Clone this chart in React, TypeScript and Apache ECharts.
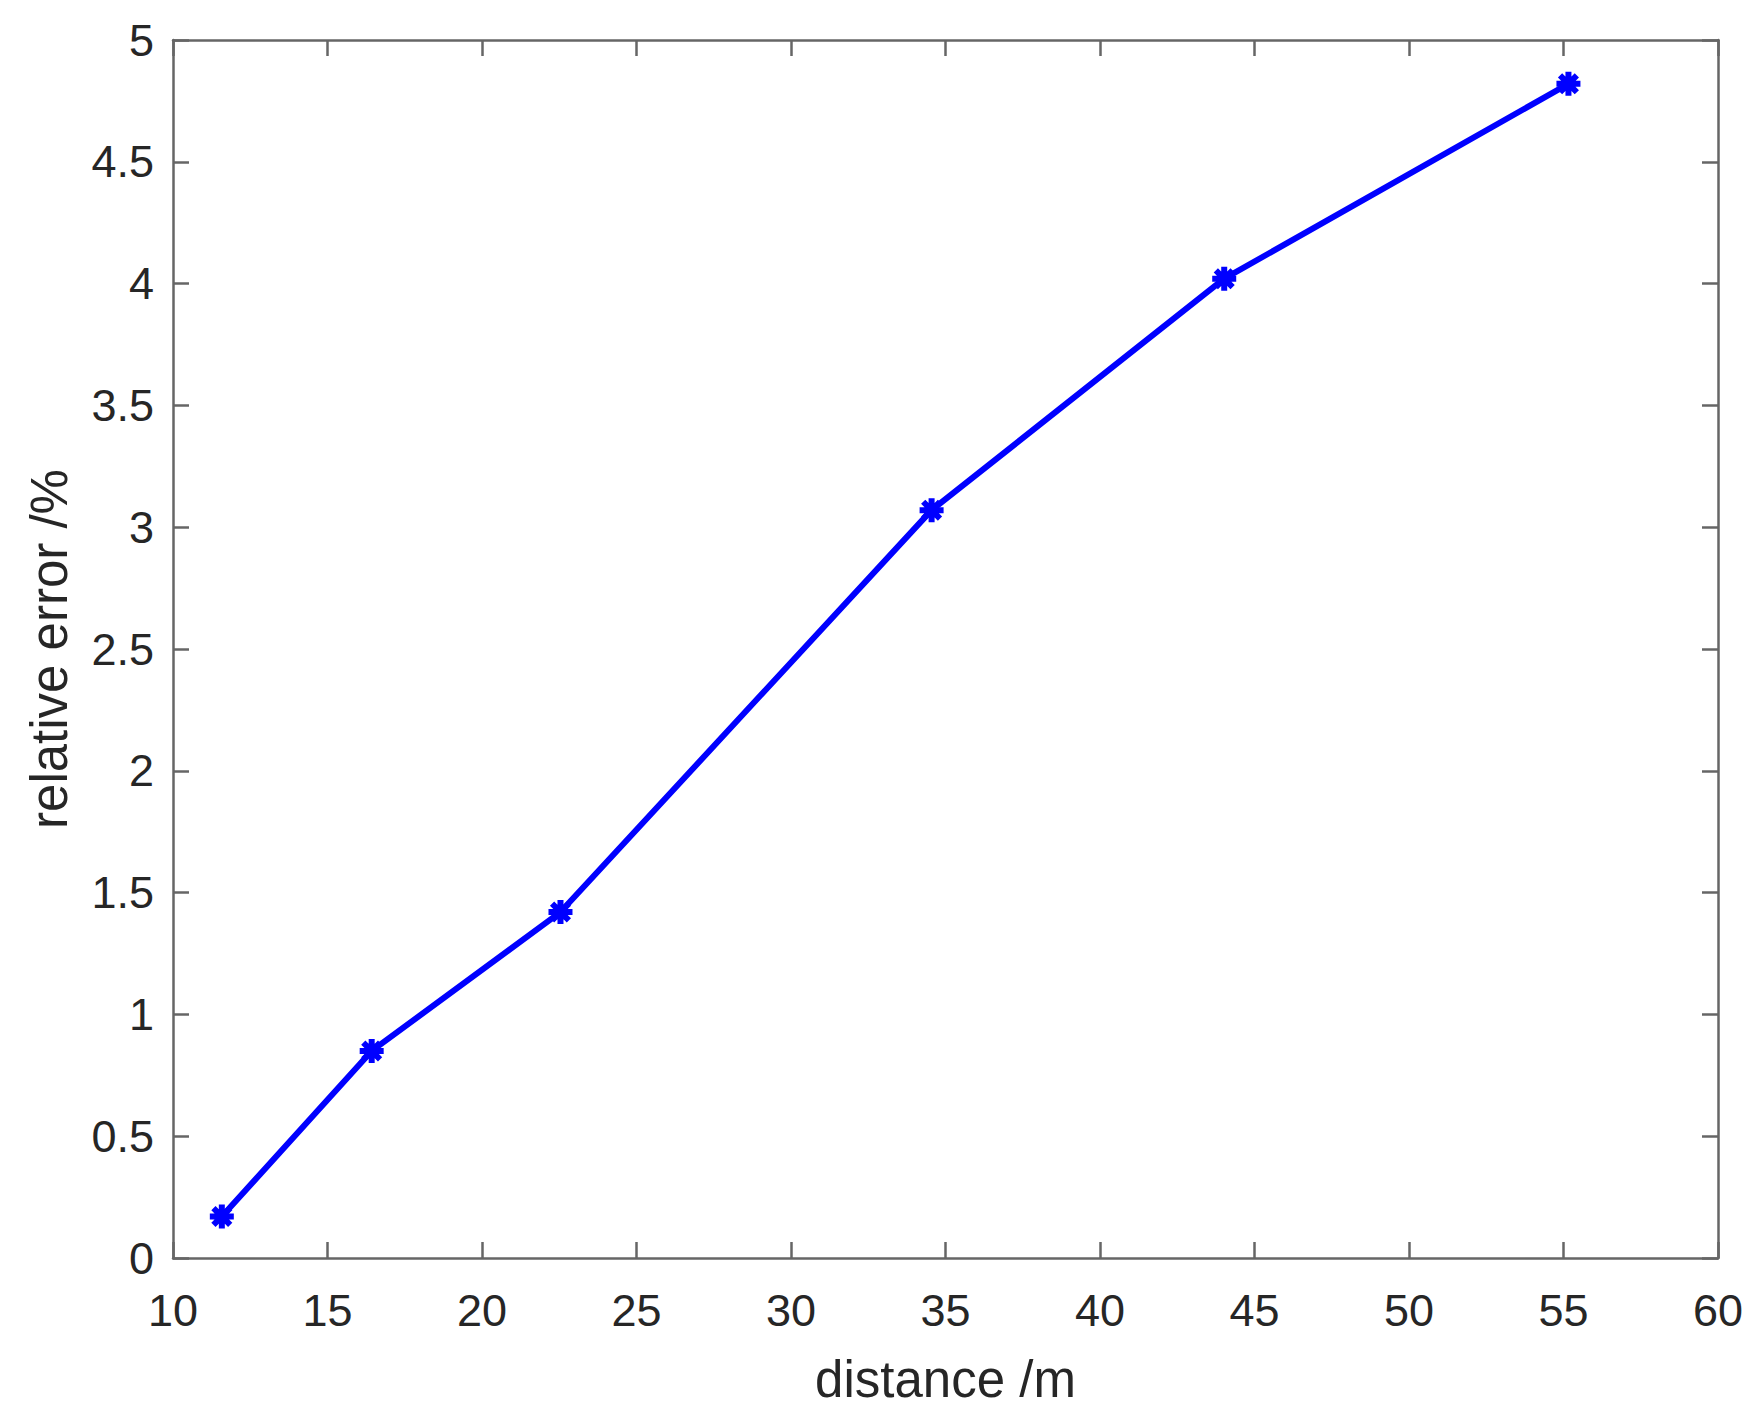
import React, { useEffect, useRef } from "react";
import * as echarts from "echarts";

const distance = [11.58, 16.43, 22.54, 34.55, 44.02, 55.16];
const relError = [0.17, 0.85, 1.42, 3.07, 4.02, 4.82];
const xTicks = { min: 10, max: 60, interval: 5 };
const yTicks = { min: 0, max: 5, interval: 0.5 };

const asterisk =
  "path://M10 0 L10 20 M0 10 L20 10 M3 3 L17 17 M3 17 L17 3";

export default function App() {
  const ref = useRef<HTMLDivElement>(null);
  useEffect(() => {
    document.body.style.margin = "0";
    const chart = echarts.init(ref.current!, null, { renderer: "svg" });
    const axisColor = "#666666";
    const textColor = "#262626";
    const font = "'Liberation Sans', Arial, sans-serif";
    const common = {
      axisLine: { show: true, onZero: false, lineStyle: { color: axisColor, width: 2.5 } },
      axisTick: { show: true, inside: true, length: 16, lineStyle: { color: axisColor, width: 2.5 } },
      splitLine: { show: false },
    };
    chart.setOption({
      animation: false,
      backgroundColor: "#ffffff",
      grid: { left: 173, right: 43, top: 40, bottom: 166 },
      xAxis: [
        {
          type: "value",
          position: "bottom",
          ...xTicks,
          ...common,
          axisLabel: { color: textColor, fontSize: 45, fontFamily: font, margin: 30 },
          name: "distance /m",
          nameLocation: "middle",
          nameGap: 96,
          nameTextStyle: { color: textColor, fontSize: 51, fontFamily: font },
        },
        {
          type: "value",
          position: "top",
          ...xTicks,
          ...common,
          axisLabel: { show: false },
        },
      ],
      yAxis: [
        {
          type: "value",
          position: "left",
          ...yTicks,
          ...common,
          axisLabel: { color: textColor, fontSize: 45, fontFamily: font, margin: 19 },
          name: "relative error /%",
          nameLocation: "middle",
          nameGap: 98,
          nameTextStyle: { color: textColor, fontSize: 51, fontFamily: font },
        },
        {
          type: "value",
          position: "right",
          ...yTicks,
          ...common,
          axisLabel: { show: false },
        },
      ],
      series: [
        {
          type: "line",
          data: distance.map((d, i) => [d, relError[i]]),
          lineStyle: { color: "#0000ff", width: 6 },
          symbol: asterisk,
          symbolSize: 24,
          itemStyle: { color: "#0000ff", borderColor: "#0000ff", borderWidth: 6 },
        },
      ],
    });
    return () => chart.dispose();
  }, []);
  return <div ref={ref} style={{ width: 1761, height: 1424 }} />;
}
